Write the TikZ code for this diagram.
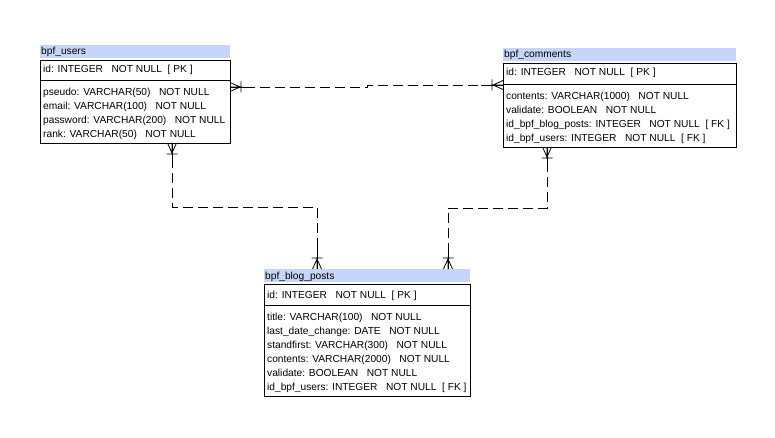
\documentclass[tikz,border=0pt]{standalone}
\usepackage{fontspec}
\setmainfont{Liberation Sans}
\definecolor{hdrblue}{RGB}{198,214,250}
\begin{document}
\begin{tikzpicture}[x=1pt,y=-1pt,
  hdr/.style={fill=hdrblue, draw=none, inner sep=0pt, outer sep=0pt, anchor=north west},
  tbl/.style={draw=black, line width=0.8pt, fill=white, inner sep=0pt, outer sep=0pt, anchor=north west},
  txt/.style={anchor=base west, inner sep=0pt, font=\fontsize{10.2}{12}\selectfont},
  rel/.style={line width=0.8pt},
  dsh/.style={line width=0.8pt, dash pattern=on 10pt off 5pt},
  crow/.pic={\draw[rel] (0,-4.5) -- (10,0) -- (0,4.5) (0,0) -- (12,0) (11,-5.5) -- (11,5.5);}
]
\useasboundingbox[fill=white] (0,0) rectangle (775,438);

% ---------- bpf_users ----------
\node[hdr, minimum width=190pt, minimum height=13pt] (uH) at (40,45) {};
\node[txt] (uT) at (41,55) {bpf\_users};
\node[tbl, minimum width=190pt, minimum height=83pt] (uB) at (40,60) {};
\draw[rel] (uB.west |- 0,80) -- (uB.east |- 0,80);
\node[txt] (u0) at (43,73) {id: INTEGER~~~NOT NULL~~[ PK ]};
\node[txt] (u1) at (43,96) {pseudo: VARCHAR(50)~~~NOT NULL};
\node[txt] (u2) at (43,110) {email: VARCHAR(100)~~~NOT NULL};
\node[txt] (u3) at (43,124) {password: VARCHAR(200)~~~NOT NULL};
\node[txt] (u4) at (43,138) {rank: VARCHAR(50)~~~NOT NULL};

% ---------- bpf_comments ----------
\node[hdr, minimum width=233pt, minimum height=13pt] (cH) at (503,48) {};
\node[txt] (cT) at (504,58) {bpf\_comments};
\node[tbl, minimum width=233pt, minimum height=84pt] (cB) at (503,63) {};
\draw[rel] (cB.west |- 0,84) -- (cB.east |- 0,84);
\node[txt] (c0) at (506,76) {id: INTEGER~~~NOT NULL~~[ PK ]};
\node[txt] (c1) at (506,100) {contents: VARCHAR(1000)~~~NOT NULL};
\node[txt] (c2) at (506,114) {validate: BOOLEAN~~~NOT NULL};
\node[txt] (c3) at (506,128) {id\_bpf\_blog\_posts: INTEGER~~~NOT NULL~~[ FK ]};
\node[txt] (c4) at (506,142) {id\_bpf\_users: INTEGER~~~NOT NULL~~[ FK ]};

% ---------- bpf_blog_posts ----------
\node[hdr, minimum width=206pt, minimum height=13pt] (bH) at (264,269) {};
\node[txt] (bT) at (265,279) {bpf\_blog\_posts};
\node[tbl, minimum width=206pt, minimum height=112pt] (bB) at (264,284) {};
\draw[rel] (bB.west |- 0,305) -- (bB.east |- 0,305);
\node[txt] (b0) at (267,298) {id: INTEGER~~~NOT NULL~~[ PK ]};
\node[txt] (b1) at (267,320) {title: VARCHAR(100)~~~NOT NULL};
\node[txt] (b2) at (267,334) {last\_date\_change: DATE~~~NOT NULL};
\node[txt] (b3) at (267,348) {standfirst: VARCHAR(300)~~~NOT NULL};
\node[txt] (b4) at (267,362) {contents: VARCHAR(2000)~~~NOT NULL};
\node[txt] (b5) at (267,376) {validate: BOOLEAN~~~NOT NULL};
\node[txt] (b6) at (267,390) {id\_bpf\_users: INTEGER~~~NOT NULL~~[ FK ]};

% ---------- connection points ----------
\coordinate (uR) at (uB.east |- 0,87);
\coordinate (cL) at (cB.west |- 0,85);
\coordinate (uD) at (uB.south -| 172,0);
\coordinate (cD) at (cB.south -| 547,0);
\coordinate (bU1) at (bH.north -| 317,0);
\coordinate (bU2) at (bH.north -| 448,0);

% users - comments
\draw[dsh] (uR) -- (367,87) -- (367,85) -- (cL);
\draw[rel] (uR) -- ++(24,0);
\draw[rel] (cL) -- ++(-22,0);
\pic at (uR) {crow};
\pic[rotate=180] at (cL) {crow};

% users - blog_posts
\draw[dsh] (uD) -- (uD |- 0,207) -- (bU1 |- 0,207) -- (bU1);
\draw[rel] (uD) -- ++(0,22);
\draw[rel] (bU1) -- ++(0,-22);
\pic[rotate=-90] at (uD) {crow};
\pic[rotate=90] at (bU1) {crow};

% comments - blog_posts
\draw[dsh] (cD) -- (cD |- 0,208) -- (bU2 |- 0,208) -- (bU2);
\draw[rel] (cD) -- ++(0,22);
\draw[rel] (bU2) -- ++(0,-22);
\pic[rotate=-90] at (cD) {crow};
\pic[rotate=90] at (bU2) {crow};
\end{tikzpicture}
\end{document}
